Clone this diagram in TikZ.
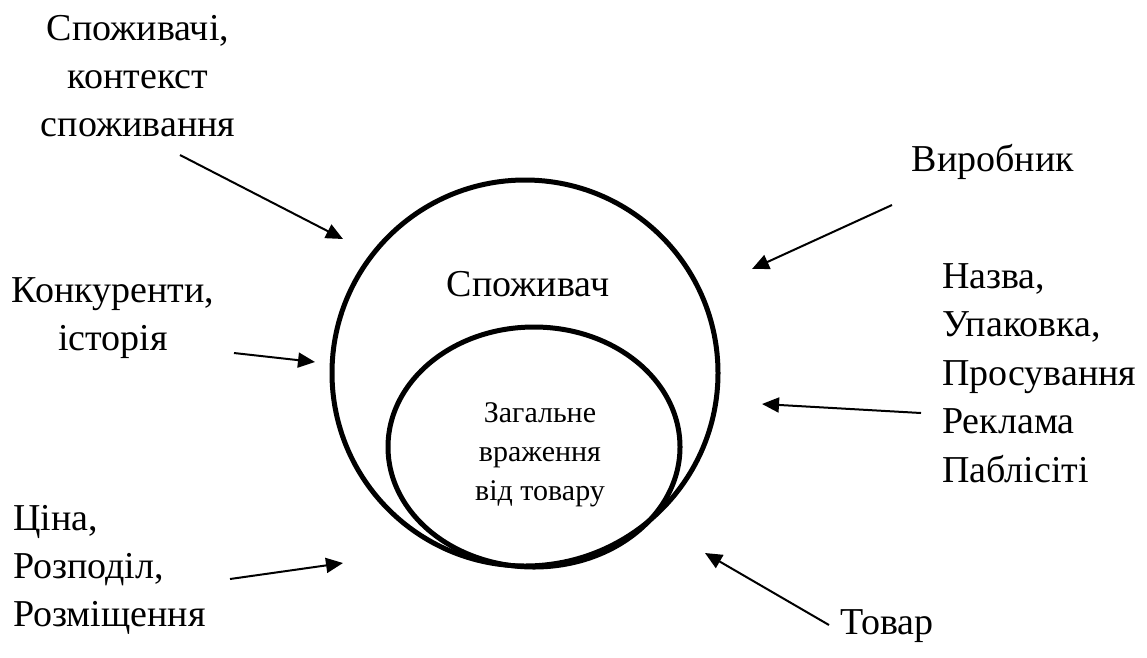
\documentclass[tikz,border=0pt]{standalone}
\usepackage{fontspec}
\setmainfont{Liberation Serif}
\usetikzlibrary{arrows.meta}

\begin{document}
\begin{tikzpicture}[x=1pt, y=-1pt,
  ring/.style={draw=black, line width=5pt},
  feed/.style={draw=black, line width=2pt, -{Triangle[length=17pt,width=15pt]}},
  lbl/.style={inner sep=0pt, anchor=base, font=\fontsize{38}{48}\selectfont},
  core/.style={inner sep=0pt, anchor=base, font=\fontsize{30}{39}\selectfont}]
  \useasboundingbox (0,0) rectangle (1147,657);

  % consumer circle and the overall impression inside it
  \draw[ring] (525,373) circle[radius=193];
  \draw[ring] (534,447) ellipse[x radius=146, y radius=120];
  \node[lbl] (consumer) at (528,296) {Споживач};
  \node[core] (impression) at (540,422)
    {\begin{tabular}[t]{@{}c@{}}Загальне\\ враження\\ від товару\end{tabular}};

  % influencing factors
  \node[lbl] (context) at (138,40)
    {\begin{tabular}[t]{@{}c@{}}Споживачі,\\ контекст\\ споживання\end{tabular}};
  \node[lbl] (maker) at (993,171) {Виробник};
  \node[lbl] (rivals) at (113,302)
    {\begin{tabular}[t]{@{}c@{}}Конкуренти,\\ історія\end{tabular}};
  \node[lbl, anchor=base west] (promo) at (942,288)
    {\fontsize{38}{48.5}\selectfont\begin{tabular}[t]{@{}l@{}}Назва,\\ Упаковка,\\ Просування\\ Реклама\\ Паблісіті\end{tabular}};
  \node[lbl, anchor=base west] (place) at (13,530)
    {\begin{tabular}[t]{@{}l@{}}Ціна,\\ Розподіл,\\ Розміщення\end{tabular}};
  \node[lbl] (goods) at (887,634) {Товар};

  % arrow ends
  \coordinate (c1) at (180,155);  \coordinate (t1) at (343,239);
  \coordinate (c2) at (892,205);  \coordinate (t2) at (752,269);
  \coordinate (c3) at (234,353);  \coordinate (t3) at (315,362);
  \coordinate (c4) at (921,413);  \coordinate (t4) at (762,404);
  \coordinate (c5) at (230,579);  \coordinate (t5) at (343,563);
  \coordinate (c6) at (829,625);  \coordinate (t6) at (705,553);

  \draw[feed] (c1) -- (t1);
  \draw[feed] (c2) -- (t2);
  \draw[feed] (c3) -- (t3);
  \draw[feed] (c4) -- (t4);
  \draw[feed] (c5) -- (t5);
  \draw[feed] (c6) -- (t6);
\end{tikzpicture}
\end{document}
